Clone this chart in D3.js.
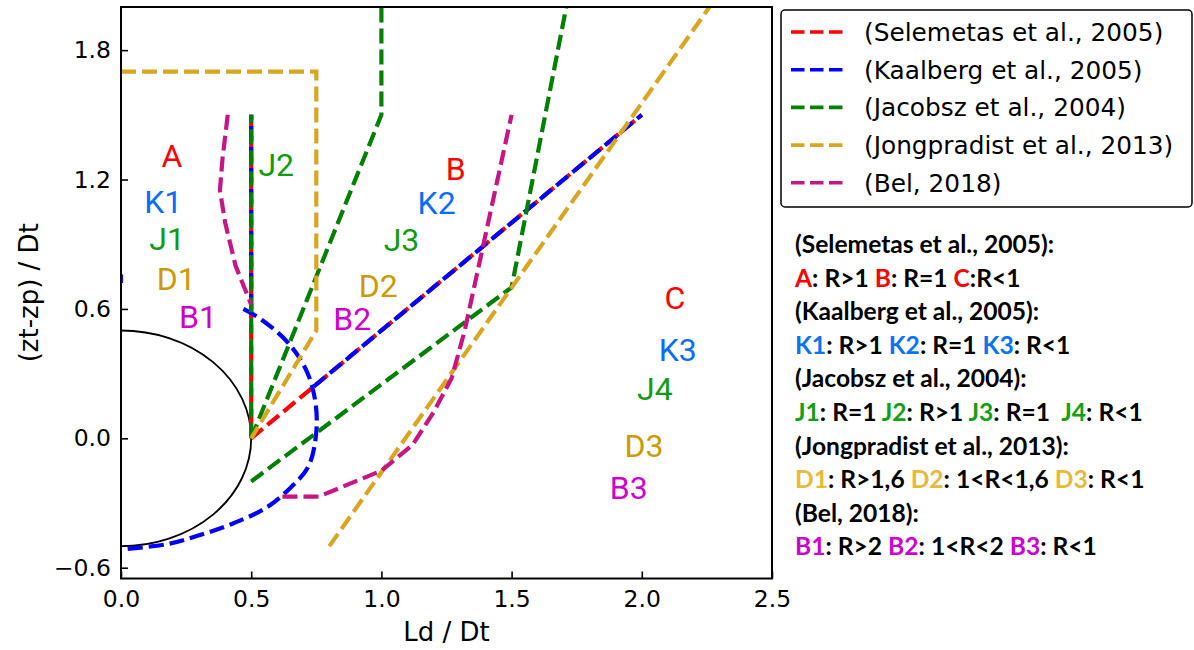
<!DOCTYPE html>
<html>
<head>
<meta charset="utf-8">
<script src="https://cdn.jsdelivr.net/npm/d3@7"></script>
<style>
  body { margin: 0; background: #fff; }
  text { white-space: pre; }
</style>
</head>
<body>
<div id="vis"></div>
<script>
const WIDTH = 1194;
const HEIGHT = 650;

// ejes
const X_DOMINIO = [0, 2.5];
const Y_DOMINIO = [-0.65, 2.0];
const X_TICKS = [0.0, 0.5, 1.0, 1.5, 2.0, 2.5];
const Y_TICKS = [-0.6, 0.0, 0.6, 1.2, 1.8];
const RADIO_TUNEL = 0.5;

// curvas de cada autor (listas de tramos [x, y])
const SELEMETAS = [
  [[0.5, 1.5], [0.5, 0.0]],
  [[0.5, 0.0], [2.0, 1.5]]
];
const KAALBERG = [
  [[0.5, 0.6], [0.5, 1.5]],
  [[0.74, 0.24], [2.0, 1.5]],
  [[0.47, 0.60], [0.54, 0.55], [0.64, 0.445], [0.71, 0.32], [0.745, 0.18], [0.75, 0.03],
   [0.72, -0.13], [0.65, -0.23], [0.56, -0.32], [0.43, -0.395], [0.30, -0.45],
   [0.18, -0.49], [0.0, -0.515]],
  [[0.0, 0.76], [0.0, 0.72]]
];
const JACOBSZ = [
  [[0.5, 0.0], [0.5, 1.5]],
  [[0.5, 0.0], [1.0, 1.5], [1.0, 2.0]],
  [[0.5, -0.2], [1.5, 0.7], [1.71, 2.0]]
];
const JONGPRADIST = [
  [[0.0, 1.7], [0.75, 1.7], [0.75, 0.5], [0.5, 0.0]],
  [[0.8, -0.5], [2.26, 2.0]]
];
const BEL = [
  [[0.41, 1.5], [0.39, 1.3], [0.38, 1.15], [0.40, 1.0], [0.44, 0.8], [0.5, 0.62]],
  [[0.62, -0.27], [0.76, -0.27], [1.0, -0.15], [1.12, -0.03], [1.2, 0.12], [1.27, 0.28],
   [1.32, 0.5], [1.5, 1.5]]
];

const AUTORES = ["(Selemetas et al., 2005)", "(Kaalberg et al., 2005)", "(Jacobsz et al., 2004)",
  "(Jongpradist et al., 2013)", "(Bel, 2018)"];
const COLORES = ["#ff0000", "#0000ff", "#008000", "#daa520", "#c71585"];
const SERIES = [SELEMETAS, KAALBERG, JACOBSZ, JONGPRADIST, BEL];

// etiquetas de zonas dentro del gráfico
const ETIQUETAS = ["A", "K1", "J1", "D1", "B1", "J2", "B", "K2", "J3", "D2", "B2", "C", "K3", "J4", "D3", "B3"];
const ETIQ_X = [0.196, 0.162, 0.177, 0.212, 0.296, 0.596, 1.285, 1.212, 1.077, 0.988, 0.888, 2.127, 2.138, 2.05, 2.008, 1.95];
const ETIQ_Y = [1.313, 1.099, 0.928, 0.742, 0.566, 1.271, 1.252, 1.095, 0.923, 0.710, 0.557, 0.654, 0.413, 0.232, -0.032, -0.227];
const ETIQ_COLOR = ["#ff0000", "#0a6cff", "#139a13", "#cc9a06", "#cc00cc", "#139a13", "#ff0000", "#0a6cff",
  "#139a13", "#cc9a06", "#cc00cc", "#ff0000", "#0a6cff", "#139a13", "#cc9a06", "#cc00cc"];

// texto explicativo a la derecha
const NOTAS = [
  [["(Selemetas et al., 2005):", null]],
  [["A", "#ff0000"], [": R>1 ", null], ["B", "#ff0000"], [": R=1 ", null], ["C", "#ff0000"], [":R<1", null]],
  [["(Kaalberg et al., 2005):", null]],
  [["K1", "#0a72f5"], [": R>1 ", null], ["K2", "#0a72f5"], [": R=1 ", null], ["K3", "#0a72f5"], [": R<1", null]],
  [["(Jacobsz et al., 2004):", null]],
  [["J1", "#14a014"], [": R=1 ", null], ["J2", "#14a014"], [": R>1 ", null], ["J3", "#14a014"], [": R=1  ", null], ["J4", "#14a014"], [": R<1", null]],
  [["(Jongpradist et al., 2013):", null]],
  [["D1", "#e8b93b"], [": R>1,6 ", null], ["D2", "#e8b93b"], [": 1<R<1,6 ", null], ["D3", "#e8b93b"], [": R<1", null]],
  [["(Bel, 2018):", null]],
  [["B1", "#cc00cc"], [": R>2 ", null], ["B2", "#cc00cc"], [": 1<R<2 ", null], ["B3", "#cc00cc"], [": R<1", null]]
];

const M = { left: 121, right: 772, top: 7, bottom: 578.5 };
const GROSOR = 4.2;
const GUIONES = "15,6";

const SVG = d3.select("#vis").append("svg").attr("width", WIDTH).attr("height", HEIGHT);

const escalaX = d3.scaleLinear().domain(X_DOMINIO).range([M.left, M.right]);
const escalaY = d3.scaleLinear().domain(Y_DOMINIO).range([M.bottom, M.top]);

SVG.append("clipPath").attr("id", "clip")
  .append("rect")
  .attr("x", M.left).attr("y", M.top)
  .attr("width", M.right - M.left).attr("height", M.bottom - M.top);

const plot = SVG.append("g").attr("clip-path", "url(#clip)");

// semicírculo del túnel
const rx = escalaX(RADIO_TUNEL) - escalaX(0);
const ry = escalaY(0) - escalaY(RADIO_TUNEL);
plot.append("path")
  .attr("d", `M${escalaX(0)},${escalaY(RADIO_TUNEL)} A${rx},${ry} 0 0 1 ${escalaX(0)},${escalaY(-RADIO_TUNEL)}`)
  .attr("fill", "none")
  .attr("stroke", "black")
  .attr("stroke-width", 1.8);

const linea = d3.line().x(d => escalaX(d[0])).y(d => escalaY(d[1]));
const lineaSuave = d3.line().x(d => escalaX(d[0])).y(d => escalaY(d[1])).curve(d3.curveCatmullRom);

SERIES.forEach((tramos, i) => {
  plot.selectAll(".s" + i)
    .data(tramos)
    .join("path")
    .attr("class", "s" + i)
    .attr("d", d => (i === 1 ? lineaSuave(d) : linea(d)))
    .attr("fill", "none")
    .attr("stroke", COLORES[i])
    .attr("stroke-width", GROSOR)
    .attr("stroke-dasharray", GUIONES);
});

// etiquetas
plot.selectAll(".etiq")
  .data(ETIQUETAS)
  .join("text")
  .attr("class", "etiq")
  .attr("x", (d, i) => escalaX(ETIQ_X[i]))
  .attr("y", (d, i) => escalaY(ETIQ_Y[i]))
  .attr("dy", "0.36em")
  .attr("text-anchor", "middle")
  .attr("font-family", "Roboto")
  .attr("font-size", 32)
  .attr("fill", (d, i) => ETIQ_COLOR[i])
  .text(d => d);

// ejes
const ejeX = d3.axisBottom(escalaX).tickValues(X_TICKS).tickFormat(d3.format(".1f")).tickSize(-7).tickPadding(12);
const ejeY = d3.axisLeft(escalaY).tickValues(Y_TICKS).tickFormat(d => d3.format(".1f")(d).replace("-", "\u2212")).tickSize(-7).tickPadding(10);

const gx = SVG.append("g").attr("transform", `translate(0,${M.bottom})`).call(ejeX);
const gy = SVG.append("g").attr("transform", `translate(${M.left},0)`).call(ejeY);
[gx, gy].forEach(g => {
  g.select(".domain").remove();
  g.selectAll("line").attr("stroke", "black").attr("stroke-width", 1.6);
  g.selectAll("text").attr("font-family", "DejaVu Sans").attr("font-size", 23.5).attr("fill", "black");
});
gx.selectAll("text").attr("dy", "0.71em");

SVG.append("rect")
  .attr("x", M.left).attr("y", M.top)
  .attr("width", M.right - M.left).attr("height", M.bottom - M.top)
  .attr("fill", "none").attr("stroke", "black").attr("stroke-width", 2);

SVG.append("text")
  .attr("x", (M.left + M.right) / 2).attr("y", 641)
  .attr("text-anchor", "middle")
  .attr("font-family", "DejaVu Sans").attr("font-size", 26)
  .text("Ld / Dt");

SVG.append("text")
  .attr("transform", `translate(38,${(M.top + M.bottom) / 2}) rotate(-90)`)
  .attr("text-anchor", "middle")
  .attr("font-family", "DejaVu Sans").attr("font-size", 26)
  .text("(zt-zp) / Dt");

// leyenda
const leyenda = SVG.append("g");
leyenda.append("rect")
  .attr("x", 781).attr("y", 10).attr("width", 411).attr("height", 197)
  .attr("rx", 4)
  .attr("fill", "white").attr("stroke", "black").attr("stroke-width", 1.5);

AUTORES.forEach((nombre, i) => {
  const y = 32 + i * 37.7;
  leyenda.append("line")
    .attr("x1", 791).attr("x2", 843).attr("y1", y).attr("y2", y)
    .attr("stroke", COLORES[i]).attr("stroke-width", 3.6)
    .attr("stroke-dasharray", "13.5,5.5");
  leyenda.append("text")
    .attr("x", 864).attr("y", y).attr("dy", "0.36em")
    .attr("font-family", "DejaVu Sans").attr("font-size", 24.8)
    .text(nombre);
});

// notas
const notas = SVG.append("g");
NOTAS.forEach((partes, i) => {
  const t = notas.append("text")
    .attr("x", 795).attr("y", 253 + i * 33.6)
    .attr("font-family", "Lato").attr("font-weight", "bold").attr("font-size", 24.6)
    .attr("fill", "black");
  partes.forEach(p => {
    t.append("tspan").attr("fill", p[1] || "black").text(p[0]);
  });
});
</script>
</body>
</html>
